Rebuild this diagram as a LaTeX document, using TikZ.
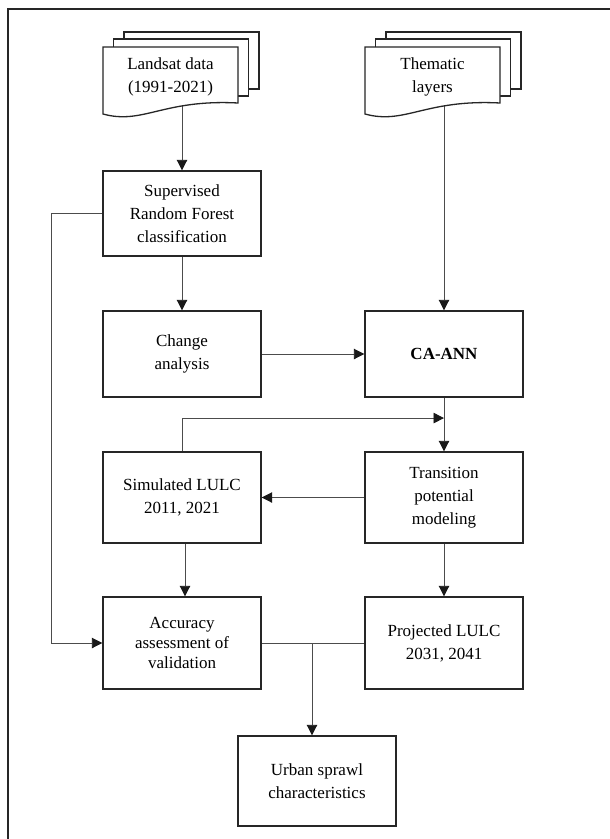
\documentclass[tikz,border=0pt]{standalone}
\usepackage{fontspec}
\setmainfont{Liberation Serif}
\usetikzlibrary{arrows.meta,calc}
\pgfdeclarelayer{paper}
\pgfdeclarelayer{bg}
\pgfsetlayers{paper,bg,main}
\newcommand\DocStack[1]{%
  \draw[sheet] (#1+21,32) rectangle (#1+156,89);
  \draw[sheet] (#1+10.5,39) rectangle (#1+145.5,96);
  \draw[sheet] (#1,47) -- (#1+135,47) -- (#1+135,103) .. controls (#1+60,99) and (#1+40,125) .. (#1,114) -- cycle;
}
\begin{document}
\begin{tikzpicture}[x=1pt,y=-1pt,
  txt/.style={font=\fontsize{17}{23}\selectfont},
  box/.style={txt, draw=black!85, line width=1.4pt, fill=white, minimum width=158pt, inner sep=0pt, align=center},
  doctext/.style={txt, align=center, inner sep=0pt},
  sheet/.style={draw=black!85, line width=1.3pt, fill=white},
  conn/.style={draw=black!70, line width=0.9pt},
  arr/.style={conn, -{Triangle[length=10.5pt,width=10.5pt,color=black!90]}}]
\useasboundingbox (0,0) rectangle (610,839);
\begin{pgfonlayer}{paper}
\fill[white] (0,0) rectangle (610,839);
\end{pgfonlayer}
% frame
\draw[line width=1.8pt, black!85] (8,839) -- (8,9) -- (610,9);
% document stacks
\DocStack{103}
\DocStack{365}
\node[doctext] (landsat) at (170.5,77) {Landsat data\\(1991-2021)};
\node[doctext] (thematic) at (432.5,77) {Thematic\\layers};
% boxes
\node[box, minimum height=85pt] (sup) at (182,213.5) {Supervised\\Random Forest\\classification};
\node[box, minimum height=86pt] (chg) at (182,354) {Change\\analysis};
\node[box, minimum height=86pt, font=\fontsize{17}{23}\selectfont\bfseries] (ca) at (444,354) {CA-ANN};
\node[box, minimum height=91pt] (sim) at (182,497.5) {Simulated LULC\\2011, 2021};
\node[box, minimum height=91pt] (tr) at (444,497.5) {Transition\\potential\\modeling};
\node[box, minimum height=92pt, font=\fontsize{17}{20}\selectfont] (acc) at (182,643) {Accuracy\\assessment of\\validation};
\node[box, minimum height=92pt] (proj) at (444,643) {Projected LULC\\2031, 2041};
\node[box, minimum height=90pt] (urb) at (317,781) {Urban sprawl\\characteristics};
% connectors
\begin{pgfonlayer}{bg}
\draw[arr] (sup.north |- landsat.south) -- (sup.north);
\draw[arr] (sup.south) -- (chg.north);
\draw[arr] (ca.north |- thematic.south) -- (ca.north);
\draw[arr] (chg.east) -- (ca.west);
\draw[arr] (ca.south) -- (tr.north);
\draw[arr] (sim.north) |- ($(ca.south)!0.38!(tr.north)$);
\draw[arr] (tr.west) -- (sim.east);
\draw[arr] ([xshift=3pt]sim.south) -- ([xshift=3pt]acc.north);
\draw[arr] (tr.south) -- (proj.north);
\draw[arr] (sup.west) -- ++(-51,0) |- (acc.west);
\draw[conn] (acc.east) -- (proj.west);
\draw[arr] ([xshift=-5pt]urb.north |- acc.east) -- ([xshift=-5pt]urb.north);
\end{pgfonlayer}
\end{tikzpicture}
\end{document}
